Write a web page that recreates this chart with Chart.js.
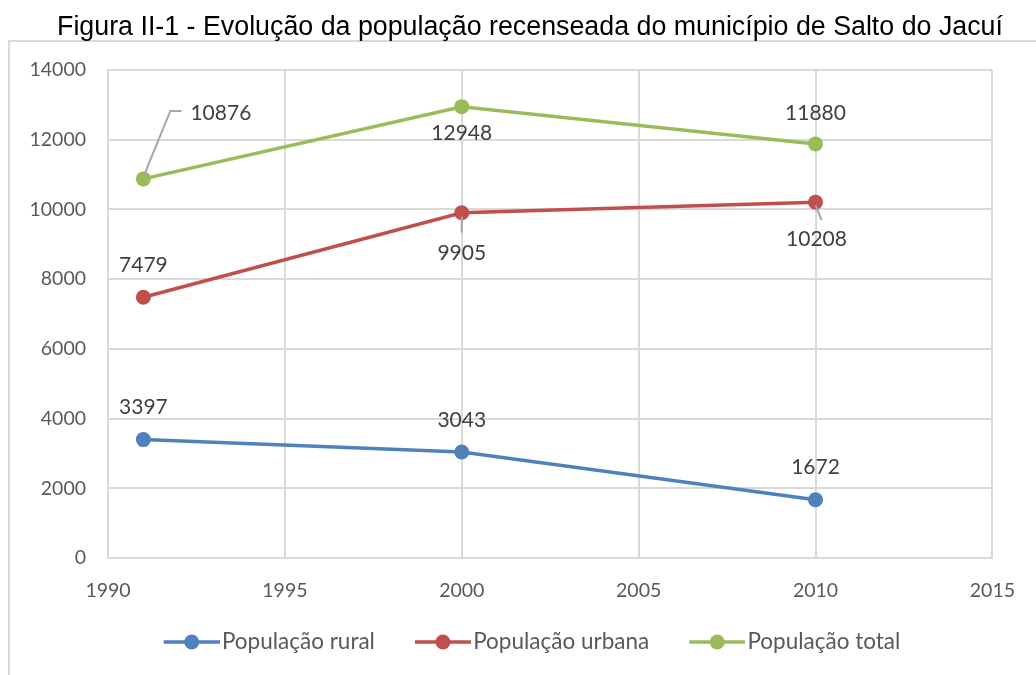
<!DOCTYPE html>
<html>
<head>
<meta charset="utf-8">
<script src="https://cdn.jsdelivr.net/npm/chart.js@4.4.0/dist/chart.umd.min.js"></script>
<style>
  html, body { margin: 0; padding: 0; background: #ffffff; }
  #wrap { position: relative; width: 1036px; height: 675px; }
  canvas { display: block; }
</style>
</head>
<body>
<div id="wrap"><canvas id="c" width="1036" height="675"></canvas></div>
<script>
// ---- data ----
const chartTitle = "Figura II-1 - Evolução da população recenseada do município de Salto do Jacuí";
const years = [1991, 2000, 2010];
const seriesNames = ["População rural", "População urbana", "População total"];
const rural = [3397, 3043, 1672];
const urbana = [7479, 9905, 10208];
const total = [10876, 12948, 11880];
const xTicks = [1990, 1995, 2000, 2005, 2010, 2015];
const yTicks = [0, 2000, 4000, 6000, 8000, 10000, 12000, 14000];

// ---- styles ----
const colors = ["#4F81BD", "#C0504D", "#9BBB59"];
const gridColor = "#D9D9D9";
const tickColor = "#595959";
const labelColor = "#404040";
const uiFont = "Lato, 'Open Sans', sans-serif";

// label placement per series/point: [dx, dy, leader]
const labelPlacement = [
  [[0, -32, null], [0, -32, null], [0, -32, null]],
  [[0, -32, null], [0, 40, [[0, 4], [0, 20]]], [1, 37, [[0, 3], [6, 18]]]],
  [[77.5, -66, [[0, -2], [27, -68], [38, -68]]], [0, 27, null], [0, -31, null]]
];

function makeIcon(color) {
  const c = document.createElement('canvas');
  c.width = 75; c.height = 16;
  const g = c.getContext('2d');
  g.strokeStyle = color; g.lineWidth = 3.5;
  g.beginPath(); g.moveTo(19, 8); g.lineTo(75, 8); g.stroke();
  g.fillStyle = color;
  g.beginPath(); g.arc(47, 8, 7.5, 0, Math.PI * 2); g.fill();
  return c;
}
const legendIcons = colors.map(makeIcon);

const frame = {
  id: 'frame',
  beforeDraw(chart) {
    const ctx = chart.ctx;
    ctx.save();
    ctx.strokeStyle = gridColor; ctx.lineWidth = 2;
    ctx.beginPath();
    ctx.moveTo(9, 675); ctx.lineTo(9, 41); ctx.lineTo(1036, 41);
    ctx.stroke();
    ctx.fillStyle = "#000000";
    ctx.font = "26.8px 'Liberation Sans', Arial, sans-serif";
    ctx.textAlign = 'center'; ctx.textBaseline = 'alphabetic';
    ctx.fillText(chartTitle, 530, 35);
    ctx.restore();
  },
  afterDatasetsDraw(chart) {
    const ctx = chart.ctx;
    ctx.save();
    ctx.font = "21px " + uiFont;
    ctx.fillStyle = labelColor;
    ctx.textAlign = 'center'; ctx.textBaseline = 'middle';
    chart.data.datasets.forEach((ds, si) => {
      const meta = chart.getDatasetMeta(si);
      meta.data.forEach((pt, i) => {
        const [dx, dy, leader] = labelPlacement[si][i];
        if (leader) {
          ctx.strokeStyle = "#A6A6A6"; ctx.lineWidth = 2;
          ctx.beginPath();
          leader.forEach(([lx, ly], k) => {
            if (k === 0) ctx.moveTo(pt.x + lx, pt.y + ly); else ctx.lineTo(pt.x + lx, pt.y + ly);
          });
          ctx.stroke();
        }
        ctx.fillText(String(ds.data[i].y), pt.x + dx, pt.y + dy);
      });
    });
    ctx.restore();
  }
};

const mk = (arr) => years.map((x, i) => ({ x: x, y: arr[i] }));
const allSeries = [rural, urbana, total];

new Chart(document.getElementById('c'), {
  type: 'line',
  data: {
    datasets: allSeries.map((arr, i) => ({
      label: seriesNames[i],
      data: mk(arr),
      borderColor: colors[i],
      backgroundColor: colors[i],
      borderWidth: 3.5,
      pointRadius: 7.5,
      pointHoverRadius: 7.5,
      pointBorderWidth: 0,
      tension: 0,
      yAxisID: 'y'
    }))
  },
  options: {
    responsive: false,
    animation: false,
    devicePixelRatio: 1,
    layout: { padding: { left: 18, right: 0, top: 70, bottom: 11.75 } },
    plugins: {
      title: { display: false },
      tooltip: { enabled: false },
      legend: {
        display: true,
        position: 'bottom',
        labels: {
          usePointStyle: true,
          pointStyleWidth: 57,
          boxHeight: 16,
          padding: 30,
          color: tickColor,
          font: { family: uiFont, size: 22.5 },
          generateLabels(chart) {
            const items = Chart.defaults.plugins.legend.labels.generateLabels(chart);
            items.forEach((it, i) => { it.pointStyle = legendIcons[i]; });
            return items;
          }
        }
      }
    },
    scales: {
      x: {
        type: 'linear',
        min: 1990, max: 2015,
        afterBuildTicks(s) { s.ticks = xTicks.map(v => ({ value: v })); },
        ticks: { color: tickColor, font: { family: uiFont, size: 19.5 }, padding: 21, maxRotation: 0, callback: v => String(v) },
        grid: { color: gridColor, lineWidth: 2, drawTicks: false },
        border: { color: gridColor, width: 2 },
        afterFit(s) { s.height = 42.75; }
      },
      y: {
        type: 'linear',
        min: 0, max: 14000,
        afterBuildTicks(s) { s.ticks = yTicks.map(v => ({ value: v })); },
        ticks: { color: tickColor, font: { family: uiFont, size: 19.5 }, padding: 22, callback: v => String(v) },
        grid: { color: gridColor, lineWidth: 2, drawTicks: false },
        border: { color: gridColor, width: 2 },
        afterFit(s) { s.width = 90; }
      },
      yr: {
        type: 'linear',
        position: 'right',
        display: true,
        min: 0, max: 14000,
        ticks: { display: false },
        grid: { display: false, drawTicks: false },
        border: { display: false },
        afterFit(s) { s.width = 43; }
      }
    }
  },
  plugins: [frame]
});
</script>
</body>
</html>
